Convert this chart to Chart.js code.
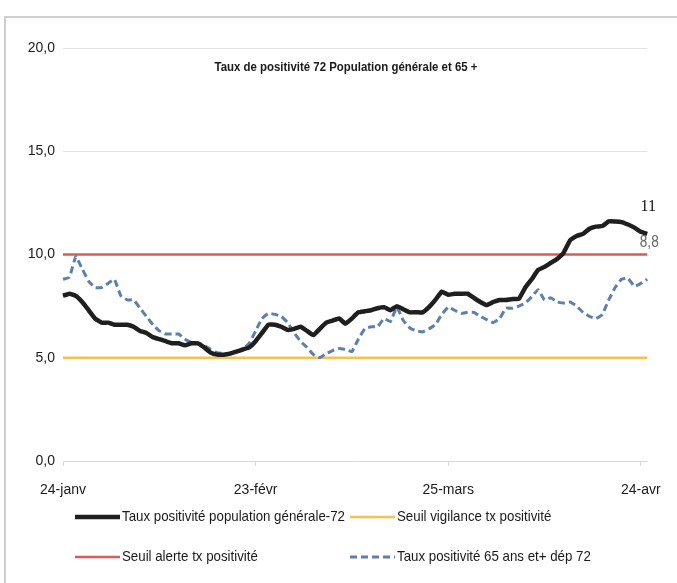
<!DOCTYPE html>
<html>
<head>
<meta charset="utf-8">
<script src="https://cdn.jsdelivr.net/npm/chart.js@4/dist/chart.umd.min.js"></script>
<style>
  html, body { margin: 0; padding: 0; background: #ffffff; }
  #wrap { position: relative; width: 677px; height: 583px; }
</style>
</head>
<body>
<div id="wrap"><canvas id="c" width="677" height="583"></canvas></div>
<script>
// ---- Data ----
const startDate = { year: 2021, month: 0, day: 24 };
const dayCount = 92;
const monthNames = ['janv', 'févr', 'mars', 'avr'];
const xTickLabels = ['24-janv', '23-févr', '25-mars', '24-avr'];

const tauxGeneral = [
  8.0, 8.1, 8.0, 7.7, 7.3, 6.9, 6.7, 6.7, 6.6, 6.6,
  6.6, 6.5, 6.3, 6.2, 6.0, 5.9, 5.8, 5.7, 5.7, 5.6,
  5.7, 5.7, 5.5, 5.25, 5.15, 5.15, 5.2, 5.3, 5.4, 5.5,
  5.8, 6.2, 6.6, 6.6, 6.5, 6.35, 6.4, 6.5, 6.3, 6.1,
  6.4, 6.7, 6.8, 6.9, 6.65, 6.9, 7.2, 7.25, 7.3, 7.4,
  7.45, 7.3, 7.5, 7.35, 7.2, 7.2, 7.2, 7.45, 7.8, 8.2,
  8.05, 8.1, 8.1, 8.1, 7.9, 7.7, 7.55, 7.7, 7.8, 7.8,
  7.85, 7.85, 8.4, 8.8, 9.25, 9.4, 9.6, 9.8, 10.1, 10.7,
  10.9, 11.0, 11.25, 11.35, 11.38, 11.6, 11.6, 11.57, 11.45, 11.3,
  11.1, 11.0
];

const taux65 = [
  8.8, 8.9, 9.9, 9.3, 8.7, 8.4, 8.4, 8.6, 8.8, 8.0,
  7.8, 7.8, 7.4, 7.0, 6.6, 6.3, 6.15, 6.15, 6.15, 5.9,
  5.75, 5.7, 5.6, 5.4, 5.25, 5.2, 5.2, 5.3, 5.4, 5.7,
  6.3, 6.9, 7.15, 7.1, 7.0, 6.7, 6.2, 5.8, 5.5, 5.15,
  5.0, 5.2, 5.35, 5.45, 5.4, 5.3, 5.9, 6.4, 6.5, 6.5,
  6.9, 6.75, 7.45, 6.8, 6.45, 6.3, 6.25, 6.4, 6.6, 7.1,
  7.45, 7.3, 7.15, 7.2, 7.2, 7.0, 6.85, 6.7, 6.9, 7.4,
  7.4, 7.5, 7.65, 7.95, 8.3, 7.8, 7.9, 7.7, 7.65, 7.7,
  7.5, 7.2, 7.0, 6.9, 7.1, 7.8, 8.4, 8.8, 8.85, 8.45,
  8.6, 8.8
];

const seuilVigilance = 5.0;
const seuilAlerte = 10.0;

const seriesNames = [
  'Taux positivité population générale-72',
  'Seuil vigilance tx positivité',
  'Seuil alerte tx positivité',
  'Taux positivité 65 ans et+ dép 72'
];
const chartTitle = 'Taux de positivité 72 Population générale et 65 +';

// ---- Categories (one per day) ----
const categories = [];
for (let i = 0; i < dayCount; i++) {
  const d = new Date(startDate.year, startDate.month, startDate.day + i);
  categories.push(d.getDate() + '-' + monthNames[d.getMonth()]);
}
const firstCat = categories[0];
const lastCat = categories[categories.length - 1];

const FONT = '"Liberation Sans", Arial, sans-serif';

const frFmt = v => v.toLocaleString('fr-FR', { maximumFractionDigits: 1 });

// draw text squeezed horizontally (narrow font look)
function narrowText(ctx, text, x, y, sx, align) {
  ctx.save();
  ctx.translate(x, y);
  ctx.scale(sx, 1);
  ctx.textAlign = align;
  ctx.fillText(text, 0, 0);
  ctx.restore();
}

const decorPlugin = {
  id: 'decor',
  beforeDraw(chart) {
    const ctx = chart.ctx;
    ctx.save();
    ctx.strokeStyle = '#cfcfcf';
    ctx.lineWidth = 2;
    ctx.beginPath();
    ctx.moveTo(5, 583);
    ctx.lineTo(5, 17);
    ctx.lineTo(677, 17);
    ctx.stroke();
    ctx.restore();
  },
  afterDraw(chart) {
    const ctx = chart.ctx;
    const ds = chart.data.datasets;
    ctx.save();
    ctx.textBaseline = 'middle';
    // title
    ctx.fillStyle = '#1a1a1a';
    ctx.font = 'bold 12px ' + FONT;
    const tw = ctx.measureText(chartTitle).width;
    narrowText(ctx, chartTitle, 346, 68, 263 / tw, 'center');

    // end labels
    const xs = chart.scales.x, ys = chart.scales.y;
    const g = ds[0].data, s = ds[3].data;
    const xEnd = xs.getPixelForValue(g.length - 1);
    ctx.textAlign = 'center';
    ctx.font = '16px "Liberation Serif", "DejaVu Serif", serif';
    ctx.fillStyle = '#111';
    ctx.fillText(frFmt(g[g.length - 1]), xEnd + 1, ys.getPixelForValue(g[g.length - 1]) - 27);
    ctx.font = '16px ' + FONT;
    ctx.fillStyle = '#666';
    narrowText(ctx, frFmt(s[s.length - 1]), xEnd + 2, ys.getPixelForValue(s[s.length - 1]) - 37, 0.85, 'center');

    // legend
    const pos = [[75, 517], [350, 517], [75, 557], [350, 557]];
    ctx.font = '15px ' + FONT;
    ctx.fillStyle = '#1a1a1a';
    const lsx = 223 / ctx.measureText(ds[0].label).width;
    ds.forEach((d, i) => {
      const [lx, ly] = pos[i];
      ctx.save();
      ctx.strokeStyle = d.borderColor;
      ctx.lineWidth = d.borderWidth;
      ctx.setLineDash(d.borderDash || []);
      ctx.lineCap = 'butt';
      ctx.beginPath();
      ctx.moveTo(lx, ly);
      ctx.lineTo(lx + 45, ly);
      ctx.stroke();
      ctx.restore();
      narrowText(ctx, d.label, lx + 47, ly, lsx, 'left');
    });
    ctx.restore();
  }
};

new Chart(document.getElementById('c'), {
  type: 'line',
  data: {
    labels: categories,
    datasets: [
      {
        label: seriesNames[0],
        data: tauxGeneral,
        borderColor: '#1f1f1f',
        borderWidth: 4.5,
        pointRadius: 0,
        tension: 0.1,
        order: 1
      },
      {
        label: seriesNames[1],
        data: [{ x: firstCat, y: seuilVigilance }, { x: lastCat, y: seuilVigilance }],
        borderColor: '#f4c152',
        borderWidth: 2.5,
        pointRadius: 0,
        order: 3
      },
      {
        label: seriesNames[2],
        data: [{ x: firstCat, y: seuilAlerte }, { x: lastCat, y: seuilAlerte }],
        borderColor: '#d65c58',
        borderWidth: 2.5,
        pointRadius: 0,
        order: 3
      },
      {
        label: seriesNames[3],
        data: taux65,
        borderColor: '#5b80ad',
        borderWidth: 3,
        borderDash: [7, 4],
        pointRadius: 0,
        tension: 0.1,
        order: 2
      }
    ]
  },
  options: {
    responsive: false,
    animation: false,
    layout: { padding: { left: 0, right: 29, top: 48, bottom: 0 } },
    plugins: {
      legend: { display: false },
      title: { display: false },
      tooltip: { enabled: false }
    },
    scales: {
      x: {
        type: 'category',
        offset: false,
        border: { display: true, color: '#d9d9d9', width: 1 },
        grid: { drawOnChartArea: false, drawTicks: true, tickLength: 5, color: '#d9d9d9' },
        ticks: {
          autoSkip: false,
          maxRotation: 0,
          minRotation: 0,
          padding: 16,
          color: '#1a1a1a',
          font: { family: FONT, size: 14 },
          callback: function (v, i) {
            const lab = categories[i];
            return xTickLabels.includes(lab) ? lab : null;
          }
        },
        afterFit: s => { s.height = 122; }
      },
      y: {
        min: 0,
        max: 20,
        border: { display: false },
        grid: { color: '#e3e3e3', lineWidth: 1, drawTicks: false },
        ticks: {
          stepSize: 5,
          padding: 8,
          color: '#1a1a1a',
          font: { family: FONT, size: 14 },
          callback: v => v.toFixed(1).replace('.', ',')
        },
        afterFit: s => { s.width = 63; }
      }
    }
  },
  plugins: [decorPlugin]
});
</script>
</body>
</html>
